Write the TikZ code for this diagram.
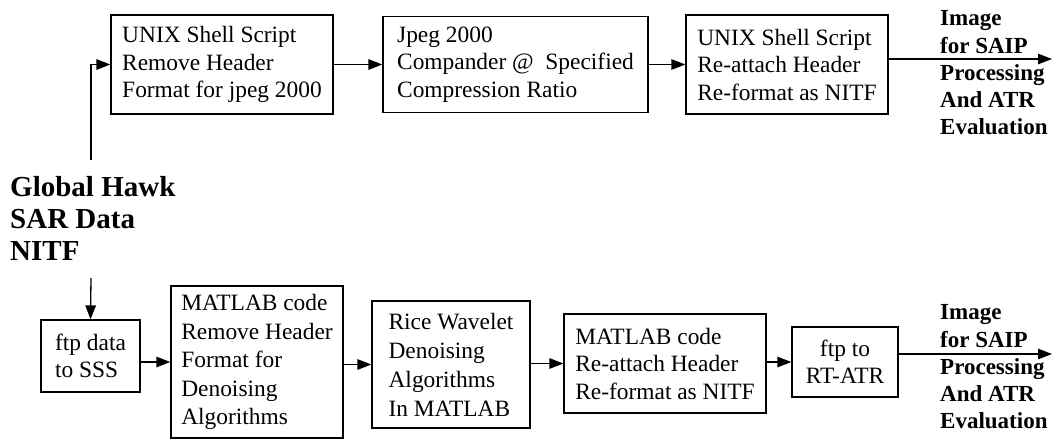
\documentclass[tikz,border=0pt]{standalone}
\usepackage{fontspec}
\setmainfont{Liberation Serif}
\usetikzlibrary{arrows.meta}
\begin{document}
\begin{tikzpicture}[x=1pt,y=-1pt,
  box/.style={draw, line width=1.3pt, align=left, inner sep=0pt,
    font=\fontsize{23.4}{27.5}\selectfont},
  outtxt/.style={anchor=west, align=left, inner sep=0pt,
    font=\fontsize{23}{27.2}\selectfont\bfseries},
  arr/.style={line width=1.3pt, -{Triangle[length=14pt,width=10.5pt]}}]
\useasboundingbox (0,0) rectangle (1060,440);
% top row
\node[box, minimum width=222, minimum height=99] (b1) at (222,64.5)
  {UNIX Shell Script\\Remove Header\\Format for jpeg 2000};
\node[box, minimum width=265, minimum height=96] (b2) at (515.5,64.5)
  {Jpeg 2000\\Compander @\ \ Specified\\Compression Ratio};
\node[box, minimum width=202, minimum height=99] (b3) at (787,64.5)
  {UNIX Shell Script\\Re-attach Header\\Re-format as NITF};
\node[outtxt] (o1) at (940,73)
  {Image\\for SAIP\\Processing\\And ATR\\Evaluation};
\coordinate (e1) at (1052,59);
% source
\node[anchor=west, align=left, inner sep=0pt,
  font=\fontsize{29}{32}\selectfont\bfseries] (gh) at (10,218)
  {Global Hawk\\SAR Data\\NITF};
\coordinate (gtop) at (91,160);
\coordinate (gbot) at (91,278);
% bottom row
\node[box, minimum width=99, minimum height=72] (f1) at (90.5,356)
  {ftp data\\to SSS};
\node[box, minimum width=172, minimum height=152,
  font=\fontsize{23.4}{28.6}\selectfont] (m1) at (257,362)
  {MATLAB code\\Remove Header\\Format for\\Denoising\\Algorithms};
\node[box, minimum width=158, minimum height=127,
  font=\fontsize{23.4}{29}\selectfont] (r1) at (451,364.5)
  {Rice Wavelet\\Denoising\\Algorithms\\In MATLAB};
\node[box, minimum width=202, minimum height=99] (m2) at (665,363.5)
  {MATLAB code\\Re-attach Header\\Re-format as NITF};
\node[box, minimum width=106, minimum height=70, align=center] (f2) at (845,362)
  {ftp to\\RT-ATR};
\node[outtxt] (o2) at (940,367)
  {Image\\for SAIP\\Processing\\And ATR\\Evaluation};
\coordinate (e2) at (1052,354);
% connectors
\draw[arr] (gtop) |- (b1.west);
\draw[arr] (b1.east) -- (b2.west);
\draw[arr] (b2.east) -- (b3.west);
\draw[arr] (b3.east |- e1) -- (e1);
\draw[arr] (gbot) -- (f1.north);
\draw[arr] (f1.east |- m1.west) -- (m1.west);
\draw[arr] (m1.east |- r1.west) -- (r1.west);
\draw[arr] (r1.east |- m2.west) -- (m2.west);
\draw[arr] (m2.east |- f2.west) -- (f2.west);
\draw[arr] (f2.east |- e2) -- (e2);
\end{tikzpicture}
\end{document}
